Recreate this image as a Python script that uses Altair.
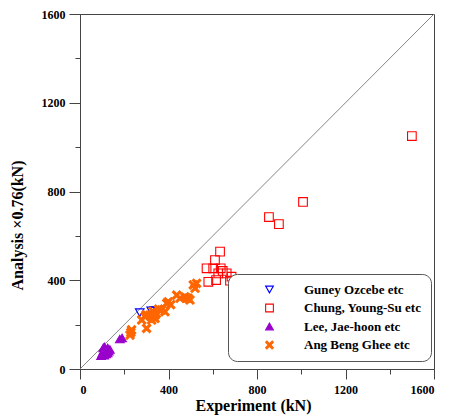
import altair as alt
import pandas as pd

series_names = ["Guney Ozcebe etc", "Chung, Young-Su etc", "Lee, Jae-hoon etc", "Ang Beng Ghee etc"]

guney_x = [270, 322, 335, 350]
guney_y = [254, 262, 264, 262]

chung_x = [633, 610, 572, 602, 636, 625, 663, 580, 615, 685, 678, 645, 854, 899, 1008, 1500]
chung_y = [529, 491, 454, 454, 454, 431, 431, 393, 401, 416, 398, 442, 685, 653, 753, 1050]

lee_x = [100, 105, 110, 115, 120, 125, 110, 130, 105, 118, 125, 135, 95, 180, 190]
lee_y = [70, 80, 62, 90, 85, 95, 100, 80, 95, 68, 72, 88, 60, 135, 140]

ang_x = [226, 233, 230, 279, 294, 301, 316, 324, 339, 339, 345, 369, 384, 392, 399,
         437, 452, 474, 482, 489, 497, 512, 520, 527, 300, 330, 355, 410]
ang_y = [153, 176, 165, 221, 236, 183, 243, 221, 243, 228, 250, 266, 258, 296, 303,
         333, 319, 325, 319, 319, 311, 379, 364, 386, 245, 260, 270, 290]

diag_x = [0, 1600]
diag_y = [0, 1600]

major_ticks = [0, 400, 800, 1200, 1600]
minor_ticks = [200, 600, 1000, 1400]

rows = []
for name, xs, ys in zip(series_names, [guney_x, chung_x, lee_x, ang_x], [guney_y, chung_y, lee_y, ang_y]):
    for a, b in zip(xs, ys):
        rows.append({"exp": a, "ana": b, "series": name})
df = pd.DataFrame(rows)
diag = pd.DataFrame({"exp": diag_x, "ana": diag_y})

FONT = "'Liberation Serif', 'Times New Roman', serif"
AX = "#444444"

x_cross = "M0,-0.32L0.68,-1L1,-0.68L0.32,0L1,0.68L0.68,1L0,0.32L-0.68,1L-1,0.68L-0.32,0L-1,-0.68L-0.68,-1Z"

xscale = alt.Scale(domain=[0, 1600], nice=False, zero=False)
yscale = alt.Scale(domain=[0, 1600], nice=False, zero=False)

base_axis = dict(labelFont=FONT, labelFontWeight="bold", labelFontSize=12, labelColor="black",
                 titleFont=FONT, titleFontWeight="bold", titleFontSize=16, titleColor="black",
                 domainColor=AX, tickColor=AX, grid=False, format="d")

x_major = alt.Axis(values=major_ticks, orient="bottom", tickSize=10, labelPadding=5, title="Experiment (kN)",
                   titleX=173, titleY=36, titleBaseline="middle", titleAlign="center", **base_axis)
y_major = alt.Axis(values=major_ticks, orient="left", tickSize=11, labelPadding=4, title="Analysis ×0.76(kN)",
                   titleX=-63, titleY=211, titleAngle=-90, titleBaseline="middle", titleAlign="center",
                   **base_axis)
x_minor = alt.Axis(values=minor_ticks, orient="bottom", tickSize=5, labels=False, domain=False, title=None,
                   tickColor=AX, grid=False)
y_minor = alt.Axis(values=minor_ticks, orient="left", tickSize=5, labels=False, domain=False, title=None,
                   tickColor=AX, grid=False)

diag_line = alt.Chart(diag).mark_line(color="#777777", strokeWidth=0.9).encode(
    x=alt.X("exp:Q", scale=xscale, axis=x_minor),
    y=alt.Y("ana:Q", scale=yscale, axis=y_minor),
)

leg = alt.Legend(title=None, labelFont=FONT, labelFontWeight="bold", labelFontSize=13, labelColor="black")

points = alt.Chart(df).mark_point(filled=False, opacity=1, size=75, strokeWidth=1.1).encode(
    x=alt.X("exp:Q", scale=xscale, axis=x_major),
    y=alt.Y("ana:Q", scale=yscale, axis=y_major),
    color=alt.Color("series:N", scale=alt.Scale(domain=series_names,
                    range=["#0000FF", "#FF0000", "#9900CC", "#FF6600"]), legend=leg),
    fill=alt.Fill("series:N", scale=alt.Scale(domain=series_names,
                  range=["transparent", "transparent", "#9900CC", "#FF6600"]), legend=leg),
    shape=alt.Shape("series:N", scale=alt.Scale(domain=series_names,
                    range=["triangle-down", "square", "triangle-up", x_cross]), legend=leg),
)

chart = alt.layer(diag_line, points).resolve_axis(x="independent", y="independent").properties(
    width=354, height=355,
    autosize=alt.AutoSizeParams(type="none"),
    padding={"left": 72, "top": 6, "right": 12, "bottom": 50},
).configure(font=FONT).configure_axis(labelFont=FONT, titleFont=FONT).configure_view(
    stroke=AX, strokeWidth=1).configure_legend(
    orient="none", legendX=148, legendY=260,
    strokeColor="#555555", cornerRadius=9, padding=9,
    labelFont=FONT, labelFontWeight="bold", labelFontSize=13, labelColor="black",
    symbolSize=60, symbolOffset=26, labelOffset=28, rowPadding=4.5,
    symbolStrokeWidth=1.1, fillColor="white",
)

chart.save("out.html", embed_options={"renderer": "svg", "actions": False})
